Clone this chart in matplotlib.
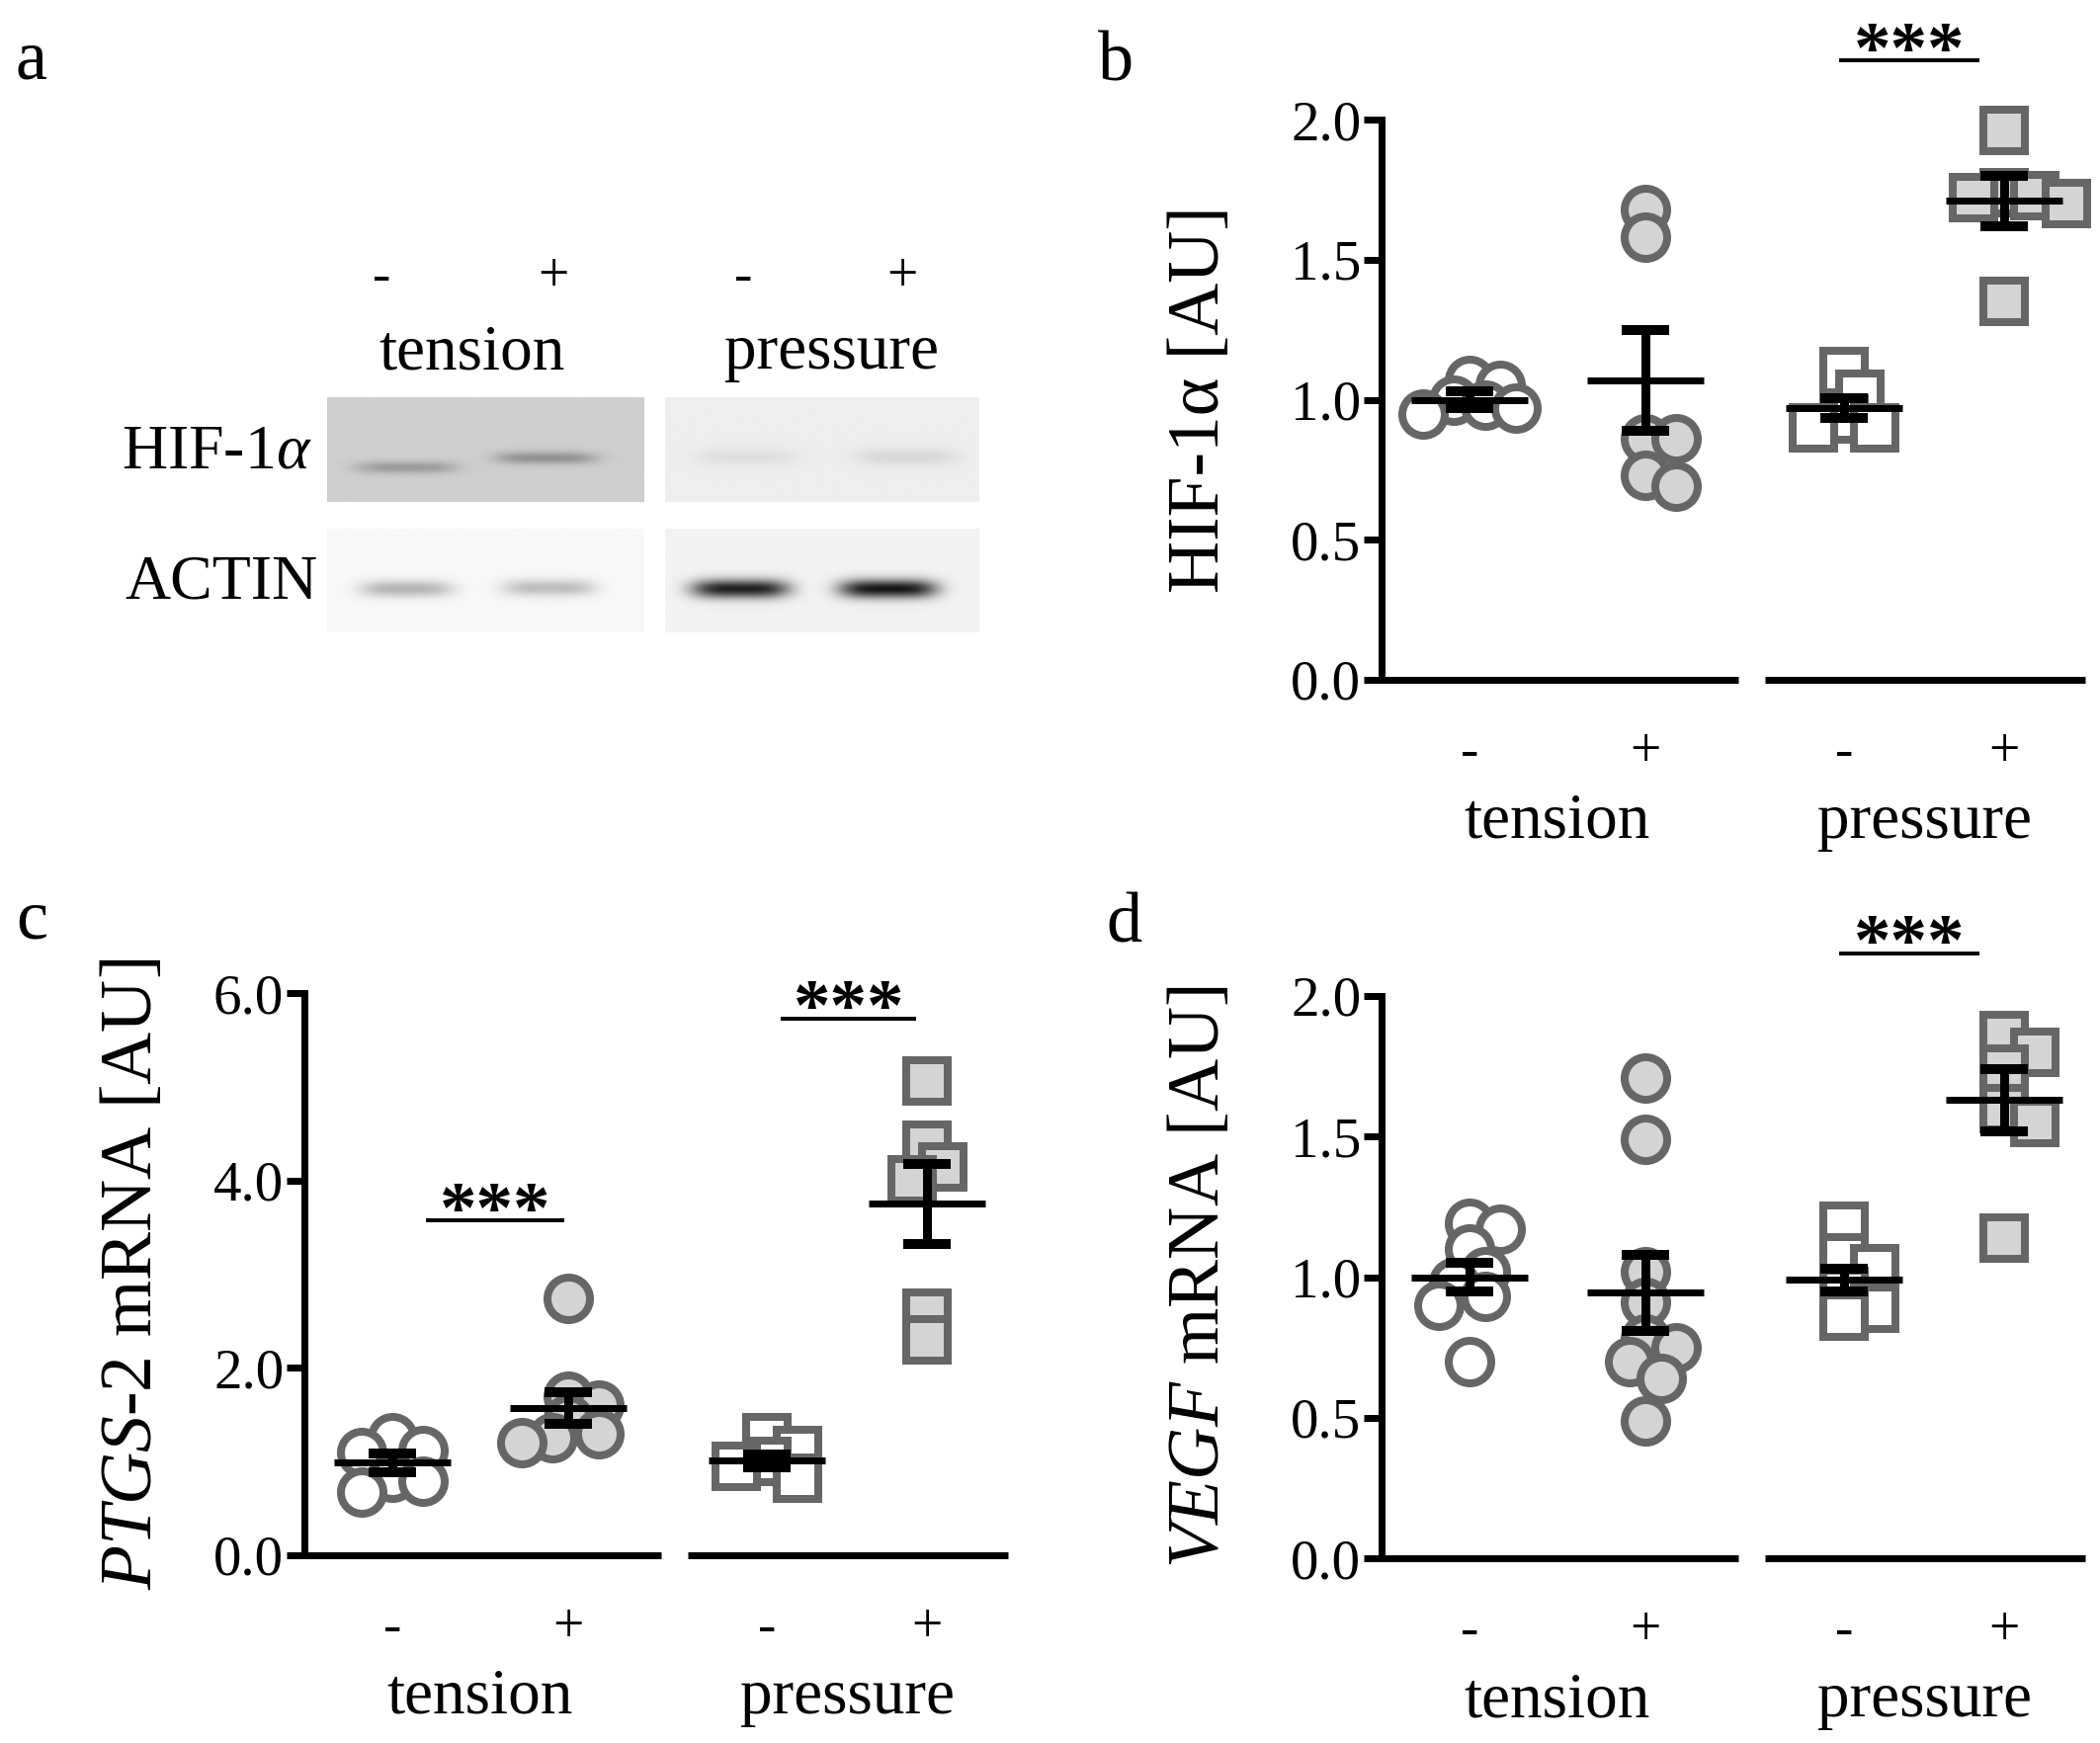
import numpy as np
import matplotlib
matplotlib.use("Agg")
import matplotlib.pyplot as plt
from matplotlib.transforms import blended_transform_factory

plt.rcParams['font.family'] = ['Liberation Serif', 'DejaVu Serif']
plt.rcParams['mathtext.fontset'] = 'custom'
plt.rcParams['mathtext.rm'] = 'Liberation Serif'
plt.rcParams['mathtext.it'] = 'Liberation Serif:italic'

# ---------------- data ----------------
conditions = ["tension", "pressure"]
treatment_labels = ["-", "+", "-", "+"]

# panel b: HIF-1alpha protein (densitometry)
hif_tension_neg = [1.07, 1.05, 1.00, 0.98, 0.97, 0.95]
hif_tension_pos = [1.68, 1.58, 0.86, 0.86, 0.73, 0.69]
hif_pressure_neg = [1.10, 1.02, 0.93, 0.90, 0.90]
hif_pressure_pos = [1.96, 1.74, 1.73, 1.72, 1.70, 1.35]
hif_mean = [1.00, 1.07, 0.97, 1.71]
hif_sem = [0.03, 0.18, 0.035, 0.09]

# panel c: PTGS-2 mRNA
ptgs_tension_neg = [1.25, 1.12, 1.10, 0.83, 0.79, 0.68]
ptgs_tension_pos = [2.74, 1.70, 1.60, 1.45, 1.30, 1.25, 1.20]
ptgs_pressure_neg = [1.25, 1.12, 1.00, 0.95, 0.82]
ptgs_pressure_pos = [5.06, 4.38, 4.14, 4.01, 2.58, 2.30]
ptgs_mean = [0.99, 1.57, 1.01, 3.75]
ptgs_sem = [0.10, 0.17, 0.07, 0.43]

# panel d: VEGF mRNA
vegf_tension_neg = [1.19, 1.17, 1.10, 1.02, 0.98, 0.93, 0.90, 0.70]
vegf_tension_pos = [1.71, 1.49, 1.02, 0.91, 0.78, 0.75, 0.70, 0.64, 0.49]
vegf_pressure_neg = [1.18, 1.07, 1.03, 0.95, 0.89, 0.86]
vegf_pressure_pos = [1.86, 1.80, 1.74, 1.60, 1.55, 1.14]
vegf_mean = [1.00, 0.945, 0.99, 1.63]
vegf_sem = [0.05, 0.135, 0.04, 0.11]

# significance brackets: (x_from, x_to, height)
hif_sig = [(2.10, 2.90, 2.21)]
ptgs_sig = [(0.19, 0.98, 3.57), (2.21, 2.98, 5.73)]
vegf_sig = [(2.10, 2.90, 2.15)]

# panel a: western blot band darkness (lane -, lane +)
blot_hif_tension = [0.20, 0.24]
blot_hif_pressure = [0.06, 0.09]
blot_actin_tension = [0.26, 0.23]
blot_actin_pressure = [0.82, 0.86]

# ---------------- layout ----------------
W, H = 2125, 1764
DPI = 100
fig = plt.figure(figsize=(W / DPI, H / DPI), dpi=DPI)
PX = 72.0 / DPI  # points per pixel

xpos = [0.0, 1.0, 2.13, 3.04]
EDGE = '#666666'
LIGHT = '#d4d4d4'


def swarm(vals, ppy, ppx, diam=52, min_frac=0.45, step_frac=0.3):
    placed = []
    offs = np.zeros(len(vals))
    cands = [0]
    for j in range(1, 40):
        cands += [j, -j]
    for idx, v in enumerate(vals):
        y = v * ppy
        x = 0.0
        for c in cands:
            x = c * step_frac * diam
            if all(np.hypot(x - px, y - py) >= min_frac * diam for px, py in placed):
                break
        placed.append((x, y))
        offs[idx] = x / ppx
    return offs


def scatter_panel(rect_px, groups, means, sems, ymax, yticks, ylabel, sigs, ylab_x):
    left, top, right, bottom = rect_px
    ax = fig.add_axes([left / W, 1 - bottom / H, (right - left) / W, (bottom - top) / H])
    ax.set_xlim(-0.5, 3.5)
    ax.set_ylim(0, ymax)
    ppx = (right - left) / 4.0
    ppy = (bottom - top) / ymax
    for i, vals in enumerate(groups):
        offs = swarm(vals, ppy, ppx)
        marker = 'o' if i < 2 else 's'
        face = 'white' if i % 2 == 0 else LIGHT
        ax.plot(xpos[i] + offs, vals, ls='none', marker=marker, ms=31 if marker == 'o' else 30,
                mfc=face, mec=EDGE, mew=8 * PX, clip_on=False, zorder=3)
        ax.hlines(means[i], xpos[i] - 0.33, xpos[i] + 0.33, color='k', lw=7 * PX, zorder=5)
        ax.errorbar(xpos[i], means[i], yerr=sems[i], fmt='none', ecolor='k',
                    elinewidth=9 * PX, capsize=17, capthick=10 * PX, zorder=5)
    for s in ['top', 'right', 'bottom']:
        ax.spines[s].set_visible(False)
    ax.spines['left'].set_linewidth(7 * PX)
    ax.set_yticks(yticks)
    ax.set_yticklabels([f"{t:.1f}" for t in yticks], fontsize=41)
    ax.tick_params(axis='y', length=13, width=7 * PX, pad=2, direction='out')
    ax.set_xticks([])
    for x0, x1 in [(-0.5, 1.53), (1.68, 3.5)]:
        ax.plot([x0, x1], [0, 0], color='k', lw=7 * PX, solid_capstyle='butt', clip_on=False, zorder=4)
    trans = blended_transform_factory(ax.transData, ax.transAxes)
    hpx = bottom - top
    for i, lab in enumerate(treatment_labels):
        ax.text(xpos[i], -74 / hpx, lab, ha='center', va='center', fontsize=40, transform=trans)
    for j, lab in enumerate(conditions):
        xc = (xpos[2 * j] + xpos[2 * j + 1]) / 2
        ax.text(xc, -160 / hpx, lab, ha='center', va='baseline', fontsize=47, transform=trans)
    ax.text(ylab_x, 0.5, ylabel, rotation=90, ha='center', va='center', fontsize=53,
            transform=ax.transAxes)
    for x0, x1, y in sigs:
        ax.plot([x0, x1], [y, y], color='k', lw=4 * PX, clip_on=False, solid_capstyle='butt')
        ax.annotate('***', xy=((x0 + x1) / 2, y), xytext=(0, -8), textcoords='offset points',
                    ha='center', va='baseline', fontsize=54, fontweight='bold',
                    annotation_clip=False)
    ax.patch.set_alpha(0)
    return ax


ax0 = fig.add_axes([0, 0, 1, 1])
ax0.set_xlim(0, W)
ax0.set_ylim(H, 0)
ax0.axis('off')


def gel(box, bg, lanes_x, band_y, darkness, band_w, band_h):
    x0, y0, x1, y1 = box
    h, w = 120, 360
    yy, xx = np.mgrid[0:h, 0:w]
    u = (xx + 0.5) / w
    v = (yy + 0.5) / h
    img = np.full((h, w), bg, dtype=float)
    for xc, yc, d in zip(lanes_x, band_y, darkness):
        px_ = np.exp(-np.abs((u - xc) / (band_w / 2)) ** 4)
        py_ = np.exp(-((v - yc) / band_h) ** 2)
        img -= d * px_ * py_
    img = np.clip(img, 0, 1)
    ax0.imshow(img, cmap='gray', vmin=0, vmax=1, extent=(x0, x1, y1, y0),
               interpolation='bilinear', aspect='auto', zorder=1)


gel((331, 402, 652, 508), 0.81, [0.25, 0.69], [0.67, 0.58], blot_hif_tension, 0.32, 0.06)
gel((673, 402, 991, 508), 0.93, [0.26, 0.77], [0.57, 0.57], blot_hif_pressure, 0.32, 0.08)
gel((331, 535, 652, 640), 0.97, [0.25, 0.70], [0.58, 0.57], blot_actin_tension, 0.29, 0.08)
gel((673, 535, 991, 640), 0.95, [0.24, 0.71], [0.58, 0.58], blot_actin_pressure, 0.31, 0.09)
ax0.set_xlim(0, W)
ax0.set_ylim(H, 0)

lane_x = [386, 560, 752, 913]
for x, lab in zip(lane_x, treatment_labels):
    ax0.text(x, 281, lab, ha='center', va='center', fontsize=40)
ax0.text(478, 373, conditions[0], ha='center', va='baseline', fontsize=47)
ax0.text(842, 373, conditions[1], ha='center', va='baseline', fontsize=47)
ax0.text(316, 458, 'HIF-1$\\mathit{\\alpha}$', ha='right', va='center', fontsize=46)
ax0.text(322, 591, 'ACTIN', ha='right', va='center', fontsize=46)

for lab, x, y in [('a', 16, 79), ('b', 1111, 81), ('c', 16, 949), ('d', 1119, 953)]:
    ax0.text(x, y, lab, ha='left', va='baseline', fontsize=52)

scatter_panel((1398, 121, 2110, 688),
              [hif_tension_neg, hif_tension_pos, hif_pressure_neg, hif_pressure_pos],
              hif_mean, hif_sem, 2.0, [0.0, 0.5, 1.0, 1.5, 2.0],
              'HIF-1α [AU]', hif_sig, -0.256)

scatter_panel((308, 1005, 1020, 1574),
              [ptgs_tension_neg, ptgs_tension_pos, ptgs_pressure_neg, ptgs_pressure_pos],
              ptgs_mean, ptgs_sem, 6.0, [0.0, 2.0, 4.0, 6.0],
              '$\\mathit{PTGS}$-$\\mathit{2}$ mRNA [AU]', ptgs_sig, -0.242)

scatter_panel((1398, 1008, 2110, 1577),
              [vegf_tension_neg, vegf_tension_pos, vegf_pressure_neg, vegf_pressure_pos],
              vegf_mean, vegf_sem, 2.0, [0.0, 0.5, 1.0, 1.5, 2.0],
              '$\\mathit{VEGF}$ mRNA [AU]', vegf_sig, -0.256)

fig.savefig('out.png', dpi=DPI)
